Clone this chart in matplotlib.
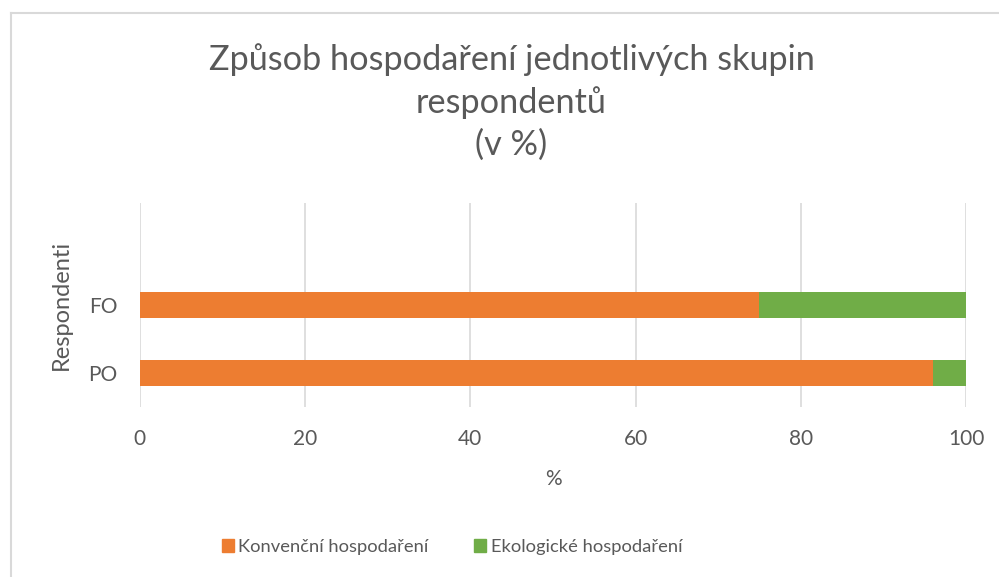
import matplotlib.pyplot as plt
from matplotlib.lines import Line2D
from matplotlib.patches import Patch

# data
categories = ['PO', 'FO', '']
konvencni = [96, 75, 0]
ekologicke = [4, 25, 0]
series_names = ['Konvenční hospodaření', 'Ekologické hospodaření']
x_ticks = [0, 20, 40, 60, 80, 100]

ORANGE = '#ED7D31'
GREEN = '#70AD47'
TEXT = '#595959'
GRID = '#D9D9D9'

plt.rcParams['font.family'] = ['Lato', 'DejaVu Sans']

fig = plt.figure(figsize=(9.99, 5.77), dpi=100)
ax = fig.add_axes([0.140, 0.2946, 0.827, 0.3535])

pos = list(range(len(categories)))
ax.barh(pos, konvencni, height=0.39, color=ORANGE, label=series_names[0])
ax.barh(pos, ekologicke, left=konvencni, height=0.39, color=GREEN, label=series_names[1])

ax.set_xlim(0, 100)
ax.set_ylim(-0.5, 2.5)
ax.set_xticks(x_ticks)
ax.set_yticks(pos)
ax.set_yticklabels(categories)
ax.grid(axis='x', color=GRID, linewidth=1.2)
ax.set_axisbelow(True)
for s in ax.spines.values():
    s.set_visible(False)
ax.tick_params(length=0, labelsize=15, labelcolor=TEXT)
ax.tick_params(axis='x', pad=16)
ax.tick_params(axis='y', pad=16)

ax.set_xlabel('%', fontsize=15, color=TEXT, labelpad=14)
ax.set_ylabel('Respondenti', fontsize=17, color=TEXT, labelpad=12)

fig.text(0.512, 1 - 102 / 577, 'Způsob hospodaření jednotlivých skupin\nrespondentů\n(v %)',
         ha='center', va='center', fontsize=24.7, color=TEXT, linespacing=1.38)

handles = [Patch(color=ORANGE), Patch(color=GREEN)]
fig.legend(handles, series_names, loc='center', bbox_to_anchor=(452 / 999, 1 - 547 / 577),
           ncol=2, frameon=False, fontsize=13.2, labelcolor=TEXT,
           handlelength=0.65, handleheight=0.65, handletextpad=0.25, columnspacing=2.5)

# chart border (only top and left visible in the crop)
fig.add_artist(Line2D([10.5 / 999, 10.5 / 999], [0, 1 - 13 / 577], color=GRID, linewidth=1.5))
fig.add_artist(Line2D([10.5 / 999, 1], [1 - 13 / 577, 1 - 13 / 577], color=GRID, linewidth=1.5))

fig.savefig('out.png', dpi=100)
